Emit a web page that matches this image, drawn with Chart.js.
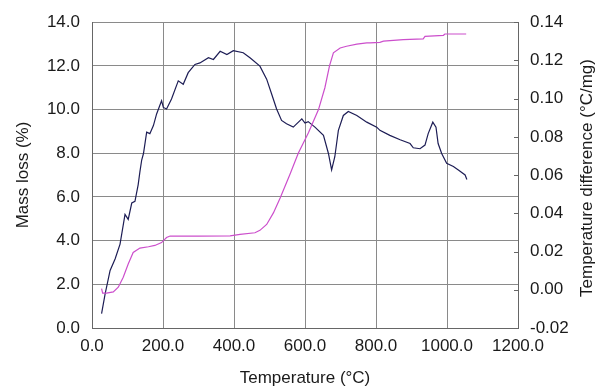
<!DOCTYPE html>
<html>
<head>
<meta charset="utf-8">
<script src="https://cdn.jsdelivr.net/npm/chart.js@4/dist/chart.umd.min.js"></script>
<style>
  html, body { margin: 0; padding: 0; background: #fff; }
  #wrap { width: 596px; height: 390px; position: relative; }
</style>
</head>
<body>
<div id="wrap"><canvas id="c" width="596" height="390"></canvas></div>
<script>
// ---------- Data ----------
// mass loss curve (left axis), temperature in °C
const massTemp = [27, 30, 41, 60, 74, 88, 102, 116, 135, 159, 177, 196, 210, 220, 300, 389, 417, 459, 473, 492, 511, 530, 544, 558, 581, 610, 638, 656, 669, 680, 699, 717, 746, 774, 783, 811, 821, 877, 933, 938, 990, 994, 1054];
const massLoss = [1.8, 1.6, 1.6, 1.65, 1.87, 2.32, 2.93, 3.46, 3.66, 3.72, 3.78, 3.91, 4.14, 4.21, 4.21, 4.22, 4.29, 4.36, 4.47, 4.74, 5.27, 5.95, 6.5, 7.05, 8.0, 8.95, 10.0, 11.0, 12.0, 12.6, 12.82, 12.9, 13.0, 13.05, 13.05, 13.08, 13.13, 13.2, 13.24, 13.35, 13.4, 13.46, 13.46];

// temperature difference curve (right axis)
const dtaTemp = [27, 37, 51, 65, 79, 93, 102, 112, 121, 130, 135, 140, 145, 154, 163, 173, 182, 196, 201, 210, 224, 243, 257, 271, 290, 304, 328, 342, 361, 380, 398, 426, 445, 473, 492, 506, 520, 534, 548, 567, 591, 600, 609, 628, 652, 666, 675, 684, 694, 708, 722, 746, 774, 802, 811, 839, 868, 896, 905, 924, 938, 947, 960, 969, 975, 985, 999, 1018, 1032, 1051, 1056];
const tempDiff = [-0.0125, -0.0021, 0.0101, 0.0161, 0.0239, 0.0394, 0.0368, 0.0454, 0.0463, 0.0549, 0.0618, 0.0679, 0.0713, 0.0825, 0.0817, 0.0859, 0.0920, 0.0989, 0.0954, 0.0946, 0.0998, 0.1093, 0.1075, 0.1136, 0.1179, 0.1187, 0.1214, 0.1205, 0.1248, 0.1231, 0.1251, 0.1240, 0.1214, 0.1170, 0.1102, 0.1024, 0.0946, 0.0886, 0.0869, 0.0851, 0.0894, 0.0872, 0.0880, 0.0851, 0.0808, 0.0713, 0.0627, 0.0696, 0.0834, 0.0912, 0.0933, 0.0912, 0.0877, 0.0851, 0.0834, 0.0808, 0.0785, 0.0765, 0.0743, 0.0738, 0.0757, 0.0817, 0.0877, 0.0851, 0.0765, 0.0713, 0.0662, 0.0645, 0.0627, 0.0601, 0.0577];

// axis titles
const xTitle = 'Temperature (°C)';
const yLeftTitle = 'Mass loss (%)';
const yRightTitle = 'Temperature difference (°C/mg)';

// ---------- Helpers ----------
function pairs(xs, ys) { return xs.map((x, i) => ({ x: x, y: ys[i] })); }
const FONT = 'Liberation Sans, Arial, sans-serif';
const GRID = '#8a8a8a';
const AXIS = '#666';

// axis titles + inner tick marks on the right axis
const titlesPlugin = {
  id: 'titles',
  afterDraw(chart) {
    const ctx = chart.ctx;
    const a = chart.chartArea;
    const yr = chart.scales.yR;
    ctx.save();
    ctx.strokeStyle = AXIS;
    ctx.lineWidth = 1;
    yr.ticks.forEach(t => {
      const py = Math.round(yr.getPixelForValue(t.value)) + 0.5;
      ctx.beginPath();
      ctx.moveTo(a.right - 4, py);
      ctx.lineTo(a.right, py);
      ctx.stroke();
    });
    ctx.fillStyle = '#1a1a1a';
    ctx.font = '17px ' + FONT;
    ctx.textAlign = 'center';
    ctx.textBaseline = 'middle';
    ctx.fillText(xTitle, (a.left + a.right) / 2, 378);
    ctx.translate(23, 175);
    ctx.rotate(-Math.PI / 2);
    ctx.fillText(yLeftTitle, 0, 0);
    ctx.restore();
    ctx.save();
    ctx.fillStyle = '#1a1a1a';
    ctx.font = '17px ' + FONT;
    ctx.textAlign = 'center';
    ctx.textBaseline = 'middle';
    ctx.translate(587, 178);
    ctx.rotate(-Math.PI / 2);
    ctx.fillText(yRightTitle, 0, 0);
    ctx.restore();
  }
};

new Chart(document.getElementById('c'), {
  type: 'scatter',
  data: {
    datasets: [
      { label: 'Mass loss', data: pairs(massTemp, massLoss), yAxisID: 'yL', showLine: true,
        borderColor: '#cc4fcc', borderWidth: 1.2, pointRadius: 0, tension: 0 },
      { label: 'Temperature difference', data: pairs(dtaTemp, tempDiff), yAxisID: 'yR', showLine: true,
        borderColor: '#1d1d55', borderWidth: 1.2, pointRadius: 0, tension: 0 }
    ]
  },
  options: {
    responsive: false,
    animation: false,
    layout: { padding: { top: 19, left: 0, right: 0, bottom: 0 } },
    plugins: { legend: { display: false }, tooltip: { enabled: false } },
    scales: {
      x: {
        type: 'linear', min: 0, max: 1200,
        ticks: { stepSize: 200, padding: 8, color: '#1a1a1a', font: { family: FONT, size: 17 },
                 callback: v => v.toFixed(1), maxRotation: 0 },
        grid: { color: GRID, drawTicks: false },
        border: { color: AXIS },
        afterFit: s => { s.height = 62; }
      },
      yL: {
        type: 'linear', position: 'left', min: 0, max: 14,
        ticks: { stepSize: 2, padding: 12, color: '#1a1a1a', font: { family: FONT, size: 17 },
                 callback: v => v.toFixed(1) },
        grid: { color: GRID, drawTicks: false },
        border: { color: AXIS },
        afterFit: s => { s.width = 92; }
      },
      yR: {
        type: 'linear', position: 'right', min: -0.02, max: 0.14,
        ticks: { stepSize: 0.02, padding: 12, color: '#1a1a1a', font: { family: FONT, size: 17 },
                 callback: v => (Math.abs(v) < 1e-9 ? 0 : v).toFixed(2) },
        grid: { drawOnChartArea: false, drawTicks: false },
        border: { color: AXIS },
        afterFit: s => { s.width = 78; }
      }
    }
  },
  plugins: [titlesPlugin]
});
</script>
</body>
</html>
